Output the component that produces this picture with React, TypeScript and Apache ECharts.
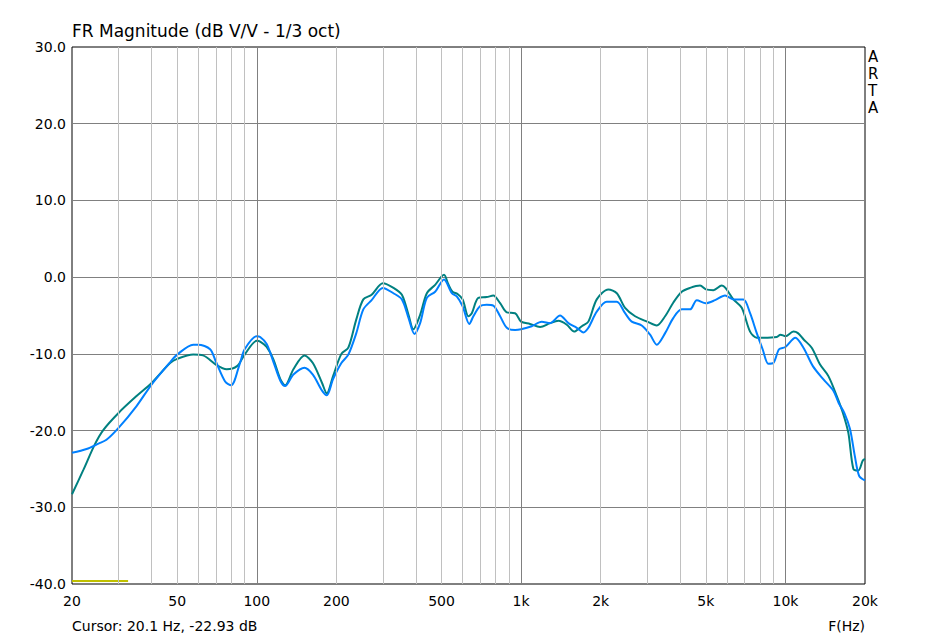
import React, { useEffect, useRef } from "react";
import * as echarts from "echarts";

const TITLE = "FR Magnitude (dB V/V - 1/3 oct)";
const CURSOR_TEXT = "Cursor: 20.1 Hz, -22.93 dB";
const X_NAME = "F(Hz)";
const BRAND = "ARTA";

const X_MIN = 20;
const X_MAX = 20000;
const Y_MIN = -40;
const Y_MAX = 30;
const Y_STEP = 10;

const X_LABELS = [20, 50, 100, 200, 500, 1000, 2000, 5000, 10000, 20000];
const MINOR_GRID = [
  30, 40, 50, 60, 70, 80, 90,
  200, 300, 400, 500, 600, 700, 800, 900,
  2000, 3000, 4000, 5000, 6000, 7000, 8000, 9000,
];
const MAJOR_GRID = [100, 1000, 10000];

const GREEN_F = [
  20, 22.1, 24.4, 26.3, 30, 35.1, 40, 47, 50, 57.5, 62.6, 70, 76.9, 84.2, 90, 100,
  103, 109, 115.5, 122.8, 128, 137.6, 151.5, 163, 176.6, 184, 194.4, 209, 222, 238,
  253, 272, 300, 329, 354, 375, 391, 415, 440, 473, 511, 530, 550, 575, 601, 632,
  651, 689, 741, 785, 833, 883, 949, 1000, 1081, 1180, 1287, 1384, 1489, 1587, 1697,
  1797, 1933, 2138, 2302, 2474, 2700, 3000, 3260, 3506, 3768, 4054, 4358, 4755, 5000,
  5340, 5744, 5930, 6356, 6836, 7350, 7790, 8250, 9276, 9580, 10000, 10718, 11150,
  11700, 12574, 13522, 14540, 15640, 16500, 17300, 18076, 18880, 19620, 20000,
];
const GREEN_DB = [
  -28.3, -25.1, -21.8, -19.9, -17.7, -15.5, -13.8, -11.2, -10.65, -10.1, -10.2, -11.4, -12.0, -11.6, -10.1, -8.3,
  -8.4, -9.1, -10.7, -13.3, -14.1, -12.0, -10.2, -11.2, -13.8, -15.15, -12.9, -10.0, -9.2, -5.5,
  -2.9, -2.3, -0.8, -1.4, -2.3, -4.9, -6.8, -4.9, -2.1, -1.0, 0.3, -0.9, -1.9, -2.2, -2.9, -5.1,
  -4.7, -2.7, -2.6, -2.4, -3.4, -4.6, -4.7, -5.8, -6.1, -6.5, -6.0, -5.7, -6.2, -7.1, -6.4,
  -5.8, -2.9, -1.6, -2.1, -4.0, -5.1, -5.8, -6.3, -5.1, -3.3, -1.9, -1.4, -1.1, -1.6,
  -1.7, -1.1, -1.4, -2.9, -4.0, -7.1, -7.9, -7.9, -7.8, -7.5, -7.7, -7.1, -7.3,
  -8.1, -9.2, -11.4, -12.9, -15.5, -17.7, -20.3, -25.0, -25.2, -23.9, -23.7,
];

const BLUE_F = [
  20, 22.7, 25.2, 27, 30, 35.1, 40, 47, 50, 57.5, 60, 66.6, 70, 75.9, 80, 86.4, 90, 100,
  103, 109, 115.5, 122.8, 128, 137.6, 151.5, 163, 176.6, 184, 194.4, 209, 222, 238,
  253, 272, 300, 329, 354, 375, 395, 415, 440, 473, 511, 547, 571, 601, 637, 660,
  699, 741, 785, 833, 883, 949, 1000, 1097, 1197, 1287, 1404, 1510, 1624, 1721, 1797,
  1933, 2108, 2302, 2474, 2622, 2860, 3076, 3260, 3506, 3768, 4054, 4358, 4620, 5000,
  5418, 5910, 6356, 6934, 7350, 7790, 8200, 8618, 9000, 9460, 10000, 10900, 11700,
  12700, 13900, 15180, 15900, 16700, 17550, 18300, 19000, 20000,
];
const BLUE_DB = [
  -22.9, -22.4, -21.7, -21.2, -19.65, -16.8, -14.0, -11.1, -10.1, -8.8, -8.8, -9.4, -11.0, -13.6, -14.1, -11.2, -9.4, -7.7,
  -7.8, -8.7, -11.0, -13.5, -14.2, -12.7, -11.8, -12.7, -14.8, -15.4, -13.3, -11.2, -10.1, -7.3,
  -4.2, -3.0, -1.4, -2.1, -2.9, -5.3, -7.4, -6.0, -2.7, -1.9, -0.3, -2.1, -2.5, -3.8, -6.1, -5.1,
  -3.8, -3.6, -3.7, -5.1, -6.6, -6.9, -6.8, -6.4, -5.8, -6.0, -5.0, -6.0, -6.6, -7.2, -6.6,
  -4.5, -3.2, -3.2, -4.7, -5.8, -6.3, -7.5, -8.8, -7.3, -5.3, -4.2, -4.2, -3.0, -3.4,
  -3.0, -2.4, -2.9, -2.9, -4.7, -7.3, -9.4, -11.3, -11.2, -9.4, -9.1, -7.9, -9.2,
  -11.6, -13.3, -14.8, -16.4, -17.7, -19.8, -23.3, -25.9, -26.5,
];

const MARKER_F = [20, 32.6];
const MARKER_DB = [-39.6, -39.6];

const FONT = "DejaVu Sans";

function pairs(xs: number[], ys: number[]) {
  return xs.map((x, i) => [x, ys[i]]);
}

function fmtFreq(v: number) {
  return v >= 1000 ? v / 1000 + "k" : String(v);
}

export default function App() {
  const ref = useRef<HTMLDivElement>(null);

  useEffect(() => {
    if (!ref.current) return;
    const chart = echarts.init(ref.current, null, { renderer: "svg" });
    const option: any = {
      animation: false,
      backgroundColor: "#ffffff",
      textStyle: { fontFamily: FONT },
      title: {
        text: TITLE,
        left: 72,
        top: 22,
        padding: 0,
        textStyle: { fontFamily: FONT, fontSize: 17, fontWeight: "normal", color: "#000" },
      },
      grid: {
        left: 72,
        top: 47,
        width: 793,
        height: 537,
        show: true,
        borderColor: "#000",
        borderWidth: 1,
        backgroundColor: "transparent",
        containLabel: false,
      },
      xAxis: {
        type: "log",
        logBase: 10,
        min: X_MIN,
        max: X_MAX,
        axisLine: { show: false },
        axisTick: { show: false, customValues: X_LABELS },
        splitLine: { show: false },
        axisLabel: {
          customValues: X_LABELS,
          formatter: (v: number) => fmtFreq(Math.round(v)),
          fontFamily: FONT,
          fontSize: 14,
          color: "#000",
          margin: 10,
        },
      },
      yAxis: {
        type: "value",
        min: Y_MIN,
        max: Y_MAX,
        interval: Y_STEP,
        axisLine: { show: false },
        axisTick: { show: false },
        splitLine: {
          show: true,
          showMinLine: false,
          showMaxLine: false,
          lineStyle: { color: "#808080", width: 1 },
        },
        axisLabel: {
          formatter: (v: number) => v.toFixed(1),
          fontFamily: FONT,
          fontSize: 14,
          color: "#000",
          margin: 6,
        },
      },
      graphic: [
        {
          type: "text",
          left: 868,
          top: 48,
          style: {
            text: BRAND.split("").join("\n"),
            font: `15px "${FONT}"`,
            lineHeight: 17,
            fill: "#000",
          },
        },
        {
          type: "text",
          left: 72,
          top: 619,
          style: { text: CURSOR_TEXT, font: `14px "${FONT}"`, fill: "#000" },
        },
        {
          type: "text",
          right: 72,
          top: 619,
          style: { text: X_NAME, font: `14px "${FONT}"`, fill: "#000" },
        },
      ],
      series: [
        {
          name: "grid",
          type: "line",
          data: [],
          z: 1,
          silent: true,
          markLine: {
            silent: true,
            symbol: ["none", "none"],
            label: { show: false },
            emphasis: { disabled: true },
            animation: false,
            data: [
              ...MINOR_GRID.map((v) => ({ xAxis: v, lineStyle: { color: "#c0c0c0", width: 1, type: "solid" } })),
              ...MAJOR_GRID.map((v) => ({ xAxis: v, lineStyle: { color: "#808080", width: 1, type: "solid" } })),
            ],
          },
        },
        {
          name: "marker",
          type: "line",
          data: pairs(MARKER_F, MARKER_DB),
          showSymbol: false,
          symbol: "none",
          z: 3,
          lineStyle: { color: "#c0c000", width: 2 },
        },
        {
          name: "green",
          type: "line",
          data: pairs(GREEN_F, GREEN_DB),
          showSymbol: false,
          symbol: "none",
          smooth: 0.3,
          z: 3,
          lineStyle: { color: "#008080", width: 2 },
        },
        {
          name: "blue",
          type: "line",
          data: pairs(BLUE_F, BLUE_DB),
          showSymbol: false,
          symbol: "none",
          smooth: 0.3,
          z: 4,
          lineStyle: { color: "#0080ff", width: 2 },
        },
      ],
    };
    chart.setOption(option);
    return () => chart.dispose();
  }, []);

  return (
    <div
      ref={ref}
      style={{ position: "absolute", left: 0, top: 0, width: 937, height: 641 }}
    />
  );
}
